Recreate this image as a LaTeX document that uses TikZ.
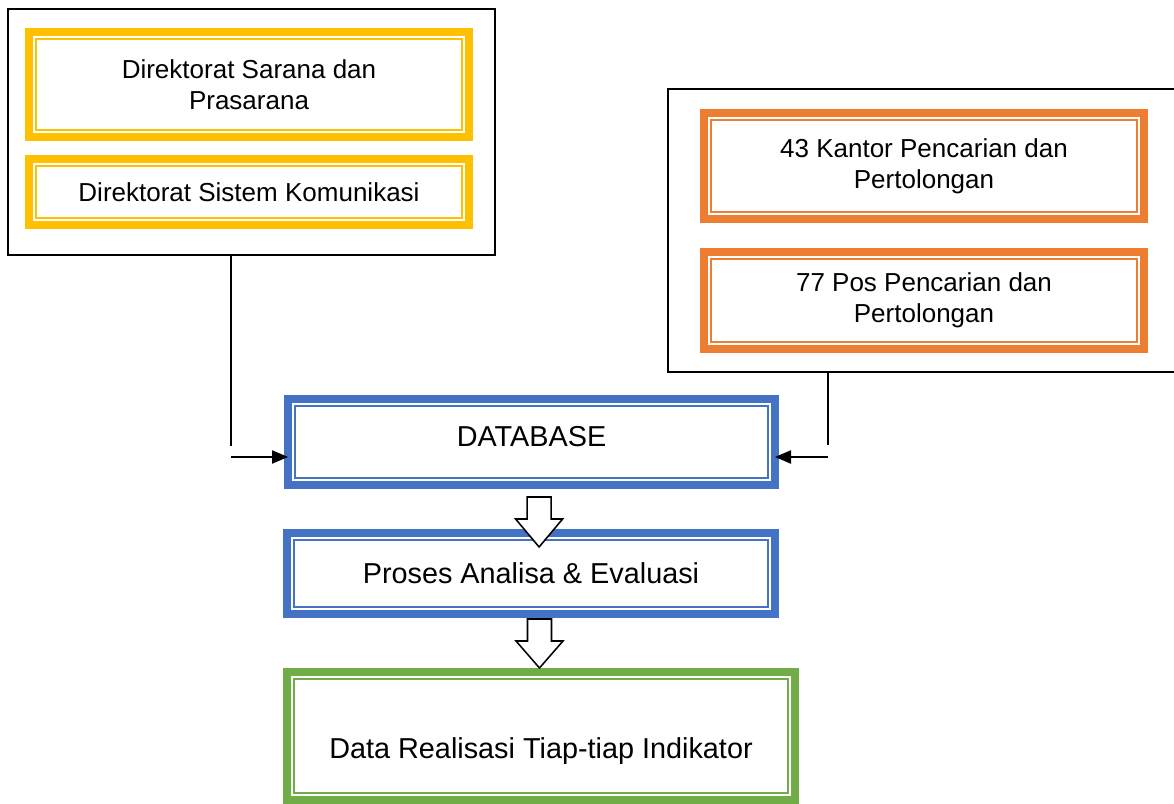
\documentclass[tikz,border=0pt]{standalone}
\usepackage{fontspec}
\setmainfont{Liberation Sans}
\usetikzlibrary{arrows.meta, calc}

\definecolor{kuning}{HTML}{FFC000}
\definecolor{oranye}{HTML}{ED7D31}
\definecolor{biru}{HTML}{4472C4}
\definecolor{hijau}{HTML}{70AD47}

\tikzset{
	bingkai/.style={draw, line width=1.1pt, inner sep=0pt, outer sep=0pt},
	dbox/.style={draw=#1, line width=0.22cm, inner sep=0pt, outer sep=0pt, align=center,
		path picture={\draw[#1, line width=0.04cm]
			([xshift=0.17cm,yshift=-0.17cm]path picture bounding box.north west) rectangle
			([xshift=-0.17cm,yshift=0.17cm]path picture bounding box.south east);}},
	kecil/.style={font=\fontsize{18.5}{22}\selectfont},
	besar/.style={font=\fontsize{20.5}{24}\selectfont},
	pijl/.style={line width=1.1pt, -{Triangle[length=0.4cm, width=0.33cm]}},
	blokpijl/.style={draw, fill=white, line width=1.1pt, line join=miter}
}

\begin{document}
\begin{tikzpicture}
	\clip (0,0) rectangle (29.35,-20.1);
	\node[bingkai, minimum width=12.175cm, minimum height=6.15cm] (kiri) at (6.2875,-3.3) {};
	\node[bingkai, minimum width=13.05cm, minimum height=7.075cm] (kanan) at (23.225,-5.7625) {};
	\node[dbox=kuning, kecil, minimum width=11cm, minimum height=2.625cm] (sarpras) at (6.225,-2.1125) {Direktorat Sarana dan\\Prasarana};
	\node[dbox=kuning, kecil, minimum width=11cm, minimum height=1.65cm] (siskom) at (6.225,-4.8) {Direktorat Sistem Komunikasi};
	\node[dbox=oranye, kecil, minimum width=11cm, minimum height=2.65cm] (kantor) at (23.1,-4.15) {43 Kantor Pencarian dan\\Pertolongan};
	\node[dbox=oranye, kecil, minimum width=11cm, minimum height=2.425cm] (pos) at (23.1,-7.5125) {77 Pos Pencarian dan\\Pertolongan};
	\node[dbox=biru, besar, minimum width=12.175cm, minimum height=2.15cm] (db) at (13.2875,-11.05) {\raisebox{-0.11cm}[0pt][0pt]{DATABASE}};
	\node[dbox=biru, besar, minimum width=12.2cm, minimum height=2.025cm] (analisa) at (13.275,-14.3375) {Proses Analisa \& Evaluasi};
	\node[dbox=hijau, besar, minimum width=12.7cm, minimum height=3.2cm] (realisasi) at (13.525,-18.4) {\raisebox{-0.55cm}[0pt][0pt]{Data Realisasi Tiap-tiap Indikator}};

	\coordinate (ka) at (5.775,-11.15);
	\coordinate (kb) at (5.775,-11.425);
	\coordinate (ra) at (20.7,-11.125);
	\coordinate (rb) at (20.7,-11.425);
	\draw[line width=1.1pt] (ka |- kiri.south) -- (ka);
	\draw[pijl] (kb) -- (kb -| db.west);
	\draw[line width=1.1pt] (ra |- kanan.south) -- (ra);
	\draw[pijl] (rb) -- (rb -| db.east);

	\draw[blokpijl] ([xshift=-0.11cm,yshift=-0.3cm]db.south) -- ++(0,-0.55) -- ++(-0.2875,0) -- ++(0.5875,-0.7)
		-- ++(0.5875,0.7) -- ++(-0.2875,0) -- ++(0,0.55) -- cycle;
	\draw[blokpijl] ([xshift=-0.0875cm,yshift=-0.125cm]analisa.south) -- ++(0,-0.55) -- ++(-0.2875,0) -- ++(0.5875,-0.675)
		-- ++(0.5875,0.675) -- ++(-0.2875,0) -- ++(0,0.55) -- cycle;
\end{tikzpicture}
\end{document}
